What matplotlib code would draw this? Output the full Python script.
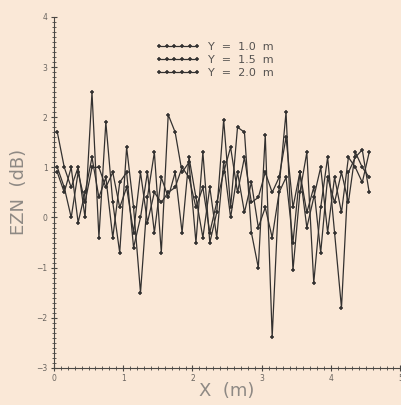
import matplotlib
matplotlib.use("Agg")
import matplotlib.pyplot as plt
from matplotlib.ticker import MultipleLocator

# Position along the room (m)
x_pos = [0.05, 0.15, 0.25, 0.35, 0.45, 0.55, 0.65, 0.75, 0.85, 0.95,
         1.05, 1.15, 1.25, 1.35, 1.45, 1.55, 1.65, 1.75, 1.85, 1.95,
         2.05, 2.15, 2.25, 2.35, 2.45, 2.55, 2.65, 2.75, 2.85, 2.95,
         3.05, 3.15, 3.25, 3.35, 3.45, 3.55, 3.65, 3.75, 3.85, 3.95,
         4.05, 4.15, 4.25, 4.35, 4.45, 4.55]

# EZN (dB) for each receiver line
ezn_y10 = [1.7, 1.0, 0.6, 1.0, 0.0, 2.5, -0.4, 1.9, 0.3, -0.7,
           1.4, 0.2, -1.5, 0.4, 1.3, -0.7, 2.05, 1.7, 0.9, 1.1,
           -0.5, 1.3, -0.5, 0.1, 1.95, 0.2, 1.8, 1.7, -0.3, -1.0,
           1.65, -2.38, 0.6, 2.1, -1.05, 0.5, 1.3, -1.3, 0.2, 1.2,
           -0.3, -1.8, 0.9, 1.2, 1.35, 0.5]
ezn_y15 = [1.0, 0.6, 0.0, 0.9, 0.3, 1.0, 1.0, 0.6, 0.9, 0.2,
           0.6, -0.3, 0.9, -0.1, 0.5, 0.3, 0.5, 0.6, 1.0, 0.8,
           0.2, 0.6, -0.3, 0.3, 0.9, 1.4, 0.5, 1.2, 0.3, 0.4,
           0.9, 0.5, 0.8, 1.6, 0.2, 0.9, 0.1, 0.6, -0.7, 0.8,
           0.3, 0.9, 0.3, 1.3, 1.0, 0.8]
ezn_y20 = [0.9, 0.5, 1.0, -0.1, 0.5, 1.2, 0.4, 0.8, -0.4, 0.7,
           0.9, -0.6, 0.0, 0.9, -0.3, 0.8, 0.4, 0.9, -0.3, 1.2,
           0.4, -0.4, 0.6, -0.4, 1.1, 0.0, 0.9, 0.1, 0.7, -0.2,
           0.2, -0.4, 0.5, 0.8, -0.5, 0.9, -0.2, 0.4, 1.0, -0.3,
           0.8, 0.1, 1.2, 1.0, 0.7, 1.3]

series_labels = ["Y  =  1.0  m", "Y  =  1.5  m", "Y  =  2.0  m"]
x_ticks = [0, 1, 2, 3, 4, 5]
y_ticks = [-3, -2, -1, 0, 1, 2, 3, 4]

bg = "#fae8d7"
ink = "#4a4744"
soft = "#8e8984"

fig = plt.figure(figsize=(4.02, 4.05), dpi=100, facecolor=bg)
ax = fig.add_axes([0.134, 0.0914, 0.862, 0.867], facecolor=bg)

for ys, lab in zip([ezn_y10, ezn_y15, ezn_y20], series_labels):
    ax.plot(x_pos, ys, color="#333130", lw=0.9, marker="+", ms=3.5,
            mew=1.1, label=lab)

ax.set_xlim(0, 5)
ax.set_ylim(-3, 4)
ax.set_xticks(x_ticks)
ax.set_yticks(y_ticks)
ax.xaxis.set_minor_locator(MultipleLocator(0.1))
ax.yaxis.set_minor_locator(MultipleLocator(0.1))
ax.tick_params(which="major", direction="inout", length=5, width=0.8,
               labelsize=5.5, colors=ink, labelcolor="#6a6560", pad=2)
ax.tick_params(which="minor", direction="inout", length=2.5, width=0.6,
               colors=ink)

for side in ("top", "right"):
    ax.spines[side].set_visible(False)
for side in ("left", "bottom"):
    ax.spines[side].set_color(ink)
    ax.spines[side].set_linewidth(0.8)
    ax.spines[side].set_linestyle((0, (2, 1)))

ax.set_xlabel("X  (m)", fontsize=13, color=soft, labelpad=-1)
ax.set_ylabel("EZN  (dB)", fontsize=13, color=soft, labelpad=6)

ax.legend(loc="upper center", bbox_to_anchor=(0.465, 0.95), frameon=False,
          fontsize=8, numpoints=6, handlelength=4.0, handletextpad=0.7,
          labelspacing=0.25, labelcolor="#555250", borderpad=0.2)

fig.savefig("out.png", dpi=100, facecolor=bg)
